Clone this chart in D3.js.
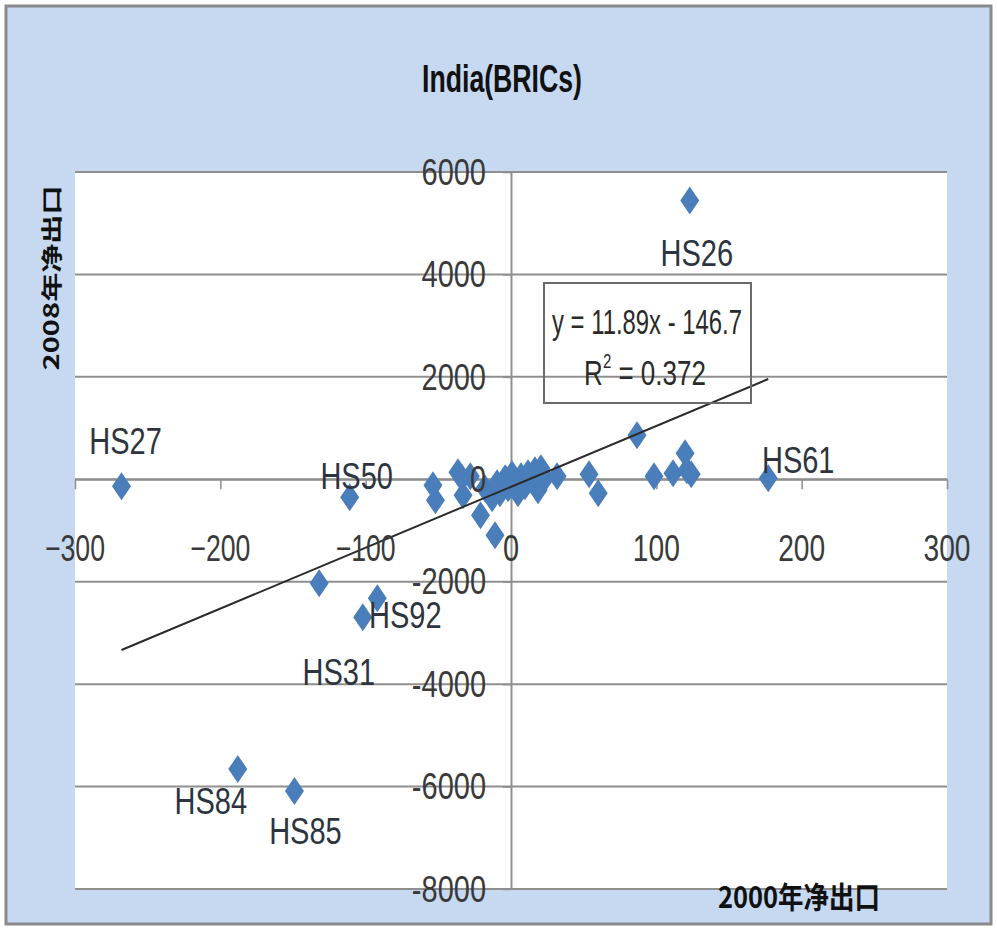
<!DOCTYPE html>
<html>
<head>
<meta charset="utf-8">
<script src="https://cdn.jsdelivr.net/npm/d3@7"></script>
<style>
  html, body { margin: 0; padding: 0; background: #ffffff; }
  svg { display: block; }
</style>
</head>
<body>
<div id="chart"></div>
<script>
// ---------------- data ----------------
const chartTitle = "India(BRICs)";
const xAxisTitle = "2000年净出口";
const yAxisTitle = "2008年净出口";
const xValues = [123, -268, -111, 177, -102, -92, -132, -188, -149,
  -53.7, -52, -36.5, -33.7, -33, -28, -21, -11, -18, -13, -9.6, -7.6, -4, -2,
  0.7, 2.8, 4.8, 6.9, 9.6, 11.7, 14.5, 16.5, 18.6, 20.6, 23.4, 31.7, 53.7, 60,
  86.7, 98.4, 111.5, 119.8, 121, 124];
const yValues = [5444, -137, -351, 20, -2693, -2322, -2029, -5658, -6088,
  -117, -410, 137, 20, -312, 59, -702, -1093, -175, -370, -78, -273, 20, -175,
  98, -78, -273, 59, -137, 117, -20, 176, -215, 215, 20, 59, 98, -273,
  859, 59, 117, 507, 176, 98];
const pointLabels = ["HS26", "HS27", "HS50", "HS61", "HS31", "HS92", "", "HS84", "HS85"];
const xTicks = [-300, -200, -100, 0, 100, 200, 300];
const yTicks = [-8000, -6000, -4000, -2000, 0, 2000, 4000, 6000];
const trendSlope = 11.89;
const trendIntercept = -146.7;
const equationText = "y = 11.89x - 146.7";
const r2Value = "0.372";

// ---------------- layout ----------------
const W = 997, H = 929;
const plot = { left: 75, right: 947, top: 172, bottom: 889 };
const labelOffsets = {            // label centre relative to its marker, px
  HS26: [7, 53], HS27: [4, -45], HS50: [7, -21], HS61: [30, -18],
  HS92: [28, 17], HS31: [-24, 55], HS84: [-27, 32], HS85: [11, 40]
};
const narrow = "'Liberation Sans Narrow', 'Arial Narrow', 'Liberation Sans', sans-serif";
const cjk = "'Noto Sans CJK SC', 'Noto Sans', sans-serif";
const SY = 1.25;   // vertical stretch of the original picture

const svg = d3.select("#chart").append("svg")
  .attr("width", W).attr("height", H)
  .attr("viewBox", `0 0 ${W} ${H}`);

// chart area
svg.append("rect").attr("x", 6).attr("y", 6).attr("width", W - 12).attr("height", H - 11)
  .attr("fill", "#c6d9f1").attr("stroke", "#8a8a8a").attr("stroke-width", 3);

// plot area
svg.append("rect").attr("x", plot.left).attr("y", plot.top)
  .attr("width", plot.right - plot.left).attr("height", plot.bottom - plot.top)
  .attr("fill", "#ffffff");

const x = d3.scaleLinear().domain([-300, 300]).range([plot.left, plot.right]);
const y = d3.scaleLinear().domain([-8000, 6000]).range([plot.bottom, plot.top]);

function txt(parent, px, py, str, o) {
  const t = parent.append("text")
    .attr("transform", `translate(${px},${py}) scale(1,${o.sy || SY})`)
    .attr("text-anchor", o.anchor || "middle")
    .attr("dominant-baseline", "central")
    .attr("font-family", o.family || narrow)
    .attr("font-size", o.size)
    .attr("font-weight", o.weight || "normal")
    .attr("fill", o.fill || "#333333")
    .text(str);
  if (o.length) t.attr("textLength", o.length).attr("lengthAdjust", "spacingAndGlyphs");
  return t;
}

// horizontal gridlines
svg.append("g").selectAll("line").data(yTicks).join("line")
  .attr("x1", plot.left).attr("x2", plot.right)
  .attr("y1", d => y(d)).attr("y2", d => y(d))
  .attr("stroke", "#8f8f8f").attr("stroke-width", 2);

// x axis (crosses at y=0)
const gx = svg.append("g").attr("transform", `translate(0,${y(0)})`)
  .call(d3.axisBottom(x).tickValues(xTicks).tickSize(10).tickSizeOuter(0).tickFormat(""));
gx.select(".domain").attr("stroke", "#8f8f8f").attr("stroke-width", 2);
gx.selectAll(".tick line").attr("stroke", "#8f8f8f").attr("stroke-width", 1.5);

// y axis (crosses at x=0)
const gy = svg.append("g").attr("transform", `translate(${x(0)},0)`)
  .call(d3.axisLeft(y).tickValues(yTicks).tickSize(8).tickSizeOuter(0).tickFormat(""));
gy.select(".domain").attr("stroke", "#8f8f8f").attr("stroke-width", 2);
gy.selectAll(".tick line").attr("stroke", "#8f8f8f").attr("stroke-width", 1.5);

// points
const pts = xValues.map((v, i) => ({ x: v, y: yValues[i], label: pointLabels[i] || "" }));

// markers
svg.append("g").selectAll("path").data(pts).join("path")
  .attr("transform", d => `translate(${x(d.x)},${y(d.y)})`)
  .attr("d", "M0,-14L9.5,0L0,14L-9.5,0Z")
  .attr("fill", "#4a7ebb");

// trend line
const xmin = d3.min(xValues), xmax = d3.max(xValues);
svg.append("line")
  .attr("x1", x(xmin)).attr("y1", y(trendSlope * xmin + trendIntercept))
  .attr("x2", x(xmax)).attr("y2", y(trendSlope * xmax + trendIntercept))
  .attr("stroke", "#2b2b2b").attr("stroke-width", 2);

// tick labels (drawn above markers)
const xfmt = d3.format("");
xTicks.forEach(v => {
  const s = xfmt(v);
  txt(svg, x(v), y(0) + 69, s, { size: 29, fill: "#3a3a3a", length: s.length > 1 ? (v < 0 ? 60 : 47) : null });
});
yTicks.forEach(v => {
  txt(svg, x(0) - 25, y(v), String(v), { size: 29, anchor: "end", fill: "#3a3a3a" });
});

// point labels
pts.filter(d => d.label).forEach(d => {
  const off = labelOffsets[d.label] || [0, -30];
  txt(svg, x(d.x) + off[0], y(d.y) + off[1], d.label, { size: 29, fill: "#2c3440" });
});

// equation box
svg.append("rect").attr("x", 544).attr("y", 283).attr("width", 207).attr("height", 120)
  .attr("fill", "none").attr("stroke", "#6a6a6a").attr("stroke-width", 2);
txt(svg, 647, 322, equationText, { size: 28, fill: "#2a2a2a", length: 190 });
const r2 = txt(svg, 645, 372, "", { size: 26, fill: "#2a2a2a", sy: 1.35 });
r2.append("tspan").text("R");
r2.append("tspan").attr("font-size", 15).attr("dy", -8).text("2");
r2.append("tspan").attr("dy", 8).text(" = " + r2Value);

// titles
txt(svg, 502, 78, chartTitle, { size: 32, weight: "bold", fill: "#111111", length: 160, sy: 1.2 });
txt(svg, 799, 895, xAxisTitle, { size: 26, weight: "bold", family: cjk, fill: "#111111", length: 162, sy: 1.15 });
svg.append("text")
  .attr("transform", `translate(50,278) rotate(-90)`)
  .attr("text-anchor", "middle").attr("dominant-baseline", "central")
  .attr("font-family", cjk).attr("font-size", 21).attr("font-weight", "bold")
  .attr("fill", "#111111")
  .attr("textLength", 185).attr("lengthAdjust", "spacingAndGlyphs")
  .text(yAxisTitle);
</script>
</body>
</html>
